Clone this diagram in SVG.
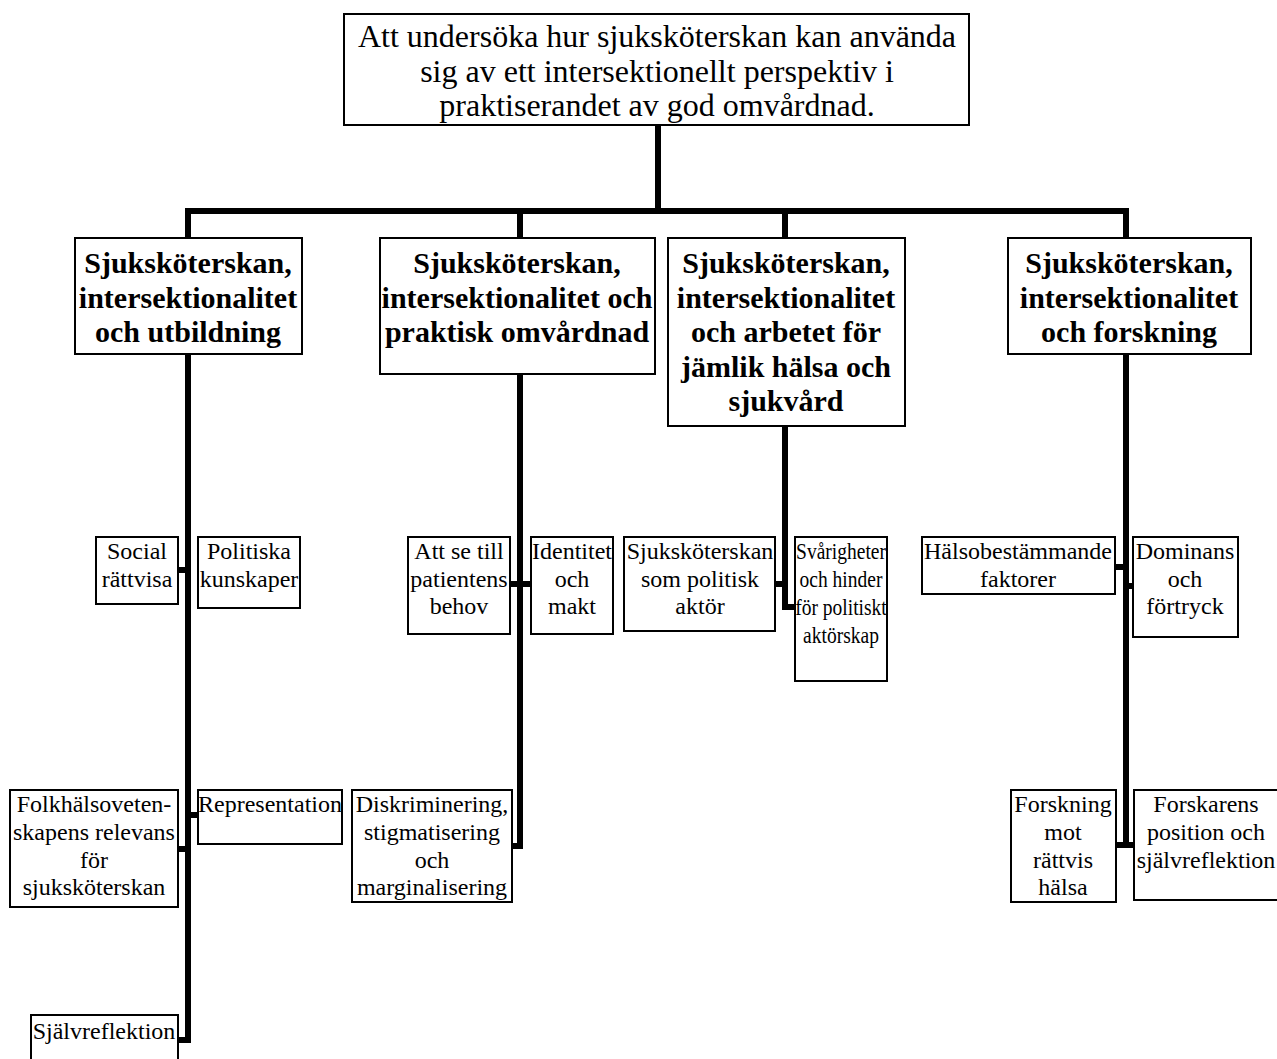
<svg xmlns="http://www.w3.org/2000/svg" width="1277" height="1059" viewBox="0 0 1277 1059">
<style>
.box{fill:#fff;stroke:#000;stroke-width:2}
.t{font-family:"Liberation Serif","Times New Roman",serif;text-anchor:middle;fill:#000}
.top{font-size:32px}
.h{font-size:30px;font-weight:bold}
.s{font-size:24px}
.xs{font-size:19.5px}
.c{stroke:#000;stroke-width:6;fill:none;stroke-linecap:square}
.st{stroke:#000;stroke-width:6;fill:none}
</style>
<rect width="1277" height="1059" fill="#fff"/>
<g id="connectors">
<path class="c" d="M658,125 V211 M188,211 H1126 M188,211 V238 M520,211 V238 M785,211 V238 M1126,211 V238"/>
<path class="c" d="M188,354 V1040 H178"/>
<path class="st" d="M178,570 H188 M178,849 H188 M188,815 H198"/>
<path class="c" d="M520,374 V846 H512"/>
<path class="st" d="M510,584 H531"/>
<path class="c" d="M785,426 V607 H795"/>
<path class="st" d="M775,584 H785"/>
<path class="c" d="M1126,354 V845"/>
<path class="st" d="M1115,567 H1126 M1126,586 H1133 M1116,845 H1134"/>
</g>
<g id="n0"><rect class="box" x="344" y="14" width="625" height="111"/>
<text class="t top" x="657" y="47">Att undersöka hur sjuksköterskan kan använda</text>
<text class="t top" x="657" y="82">sig av ett intersektionellt perspektiv i</text>
<text class="t top" x="657" y="116">praktiserandet av god omvårdnad.</text></g>
<g id="n1"><rect class="box" x="75" y="238" width="227" height="116"/>
<text class="t h" x="188" y="273">Sjuksköterskan,</text>
<text class="t h" x="188" y="308">intersektionalitet</text>
<text class="t h" x="188" y="342">och utbildning</text></g>
<g id="n2"><rect class="box" x="380" y="238" width="275" height="136"/>
<text class="t h" x="517" y="273">Sjuksköterskan,</text>
<text class="t h" x="517" y="308">intersektionalitet och</text>
<text class="t h" x="517" y="342">praktisk omvårdnad</text></g>
<g id="n3"><rect class="box" x="668" y="238" width="237" height="188"/>
<text class="t h" x="786" y="273">Sjuksköterskan,</text>
<text class="t h" x="786" y="308">intersektionalitet</text>
<text class="t h" x="786" y="342">och arbetet för</text>
<text class="t h" x="786" y="377">jämlik hälsa och</text>
<text class="t h" x="786" y="411">sjukvård</text></g>
<g id="n4"><rect class="box" x="1008" y="238" width="243" height="116"/>
<text class="t h" x="1129" y="273">Sjuksköterskan,</text>
<text class="t h" x="1129" y="308">intersektionalitet</text>
<text class="t h" x="1129" y="342">och forskning</text></g>
<g id="n5"><rect class="box" x="96" y="537" width="82" height="67"/>
<text class="t s" x="137" y="559">Social</text>
<text class="t s" x="137" y="587">rättvisa</text></g>
<g id="n6"><rect class="box" x="198" y="537" width="102" height="71"/>
<text class="t s" x="249" y="559">Politiska</text>
<text class="t s" x="249" y="587">kunskaper</text></g>
<g id="n7"><rect class="box" x="10" y="790" width="168" height="117"/>
<text class="t s" x="94" y="812">Folkhälsoveten-</text>
<text class="t s" x="94" y="840">skapens relevans</text>
<text class="t s" x="94" y="868">för</text>
<text class="t s" x="94" y="895">sjuksköterskan</text></g>
<g id="n8"><rect class="box" x="198" y="790" width="144" height="54"/>
<text class="t s" x="270" y="812">Representation</text></g>
<g id="n9"><rect class="box" x="31" y="1015" width="147" height="60"/>
<text class="t s" x="104" y="1039">Självreflektion</text></g>
<g id="n10"><rect class="box" x="408" y="537" width="102" height="97"/>
<text class="t s" x="459" y="559">Att se till</text>
<text class="t s" x="459" y="587">patientens</text>
<text class="t s" x="459" y="614">behov</text></g>
<g id="n11"><rect class="box" x="531" y="537" width="82" height="97"/>
<text class="t s" x="572" y="559">Identitet</text>
<text class="t s" x="572" y="587">och</text>
<text class="t s" x="572" y="614">makt</text></g>
<g id="n12"><rect class="box" x="352" y="790" width="160" height="112"/>
<text class="t s" x="432" y="812">Diskriminering,</text>
<text class="t s" x="432" y="840">stigmatisering</text>
<text class="t s" x="432" y="868">och</text>
<text class="t s" x="432" y="895">marginalisering</text></g>
<g id="n13"><rect class="box" x="624" y="537" width="151" height="94"/>
<text class="t s" x="700" y="559">Sjuksköterskan</text>
<text class="t s" x="700" y="587">som politisk</text>
<text class="t s" x="700" y="614">aktör</text></g>
<g id="n14"><rect class="box" x="795" y="537" width="92" height="144"/>
<text class="t xs" transform="translate(841,559) scale(1,1.22)">Svårigheter</text>
<text class="t xs" transform="translate(841,587) scale(1,1.22)">och hinder</text>
<text class="t xs" transform="translate(841,615) scale(1,1.22)">för politiskt</text>
<text class="t xs" transform="translate(841,643) scale(1,1.22)">aktörskap</text></g>
<g id="n15"><rect class="box" x="922" y="537" width="193" height="57"/>
<text class="t s" x="1018" y="559">Hälsobestämmande</text>
<text class="t s" x="1018" y="587">faktorer</text></g>
<g id="n16"><rect class="box" x="1133" y="537" width="105" height="100"/>
<text class="t s" x="1185" y="559">Dominans</text>
<text class="t s" x="1185" y="587">och</text>
<text class="t s" x="1185" y="614">förtryck</text></g>
<g id="n17"><rect class="box" x="1011" y="790" width="105" height="112"/>
<text class="t s" x="1063" y="812">Forskning</text>
<text class="t s" x="1063" y="840">mot</text>
<text class="t s" x="1063" y="868">rättvis</text>
<text class="t s" x="1063" y="895">hälsa</text></g>
<g id="n18"><rect class="box" x="1134" y="790" width="146" height="110"/>
<text class="t s" x="1206" y="812">Forskarens</text>
<text class="t s" x="1206" y="840">position och</text>
<text class="t s" x="1206" y="868">självreflektion</text></g>
</svg>
